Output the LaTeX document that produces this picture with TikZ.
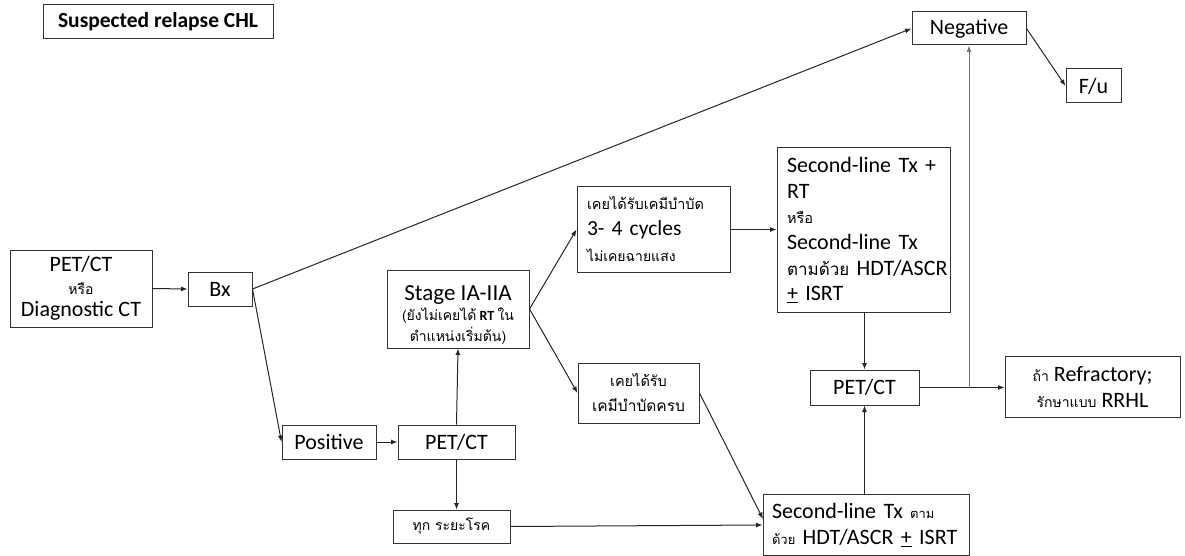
\documentclass[tikz,border=0pt]{standalone}
\usepackage{fontspec}
\setmainfont{Carlito}
\newfontfamily\thai[Script=Thai]{Loma}
\usetikzlibrary{arrows.meta}
\begin{document}
\begin{tikzpicture}[x=1pt,y=-1pt,
  box/.style={draw=black!80, line width=1pt, inner sep=0pt, align=center,
     font=\fontsize{22}{24}\selectfont},
  conn/.style={draw=black!85, line width=1pt, -{Latex[length=6.5pt,width=5pt]}},
  greyconn/.style={conn, draw=black!55}]
\useasboundingbox (0,0) rectangle (1185,556);
\newcommand{\thsz}[2]{{\thai\fontsize{#1}{20}\selectfont #2}}

\node[box, minimum width=230, minimum height=34, font=\bfseries\fontsize{21.5}{24}\selectfont] (title) at (158,22) {Suspected relapse CHL};

\node[box, minimum width=142, minimum height=77, font=\fontsize{22}{22.5}\selectfont] (diag) at (81,288.5)
  {PET/CT\\ \thsz{14}{หรือ}\\ Diagnostic CT};
\node[box, minimum width=64, minimum height=34] (bx) at (220,289) {Bx};
\node[box, minimum width=114, minimum height=33] (neg) at (969,28.5) {Negative};
\node[box, minimum width=55, minimum height=34] (fu) at (1093.5,86) {F/u};

\node[box, minimum width=142, minimum height=78, font=\fontsize{14}{20.5}\selectfont] (stage) at (458,309)
  {\rule{0pt}{26pt}{\fontsize{23}{20}\selectfont Stage IA-IIA}\\ {\thai (ยังไม่เคยได้} {\bfseries RT} {\thai ใน}\\ {\thai ตำแหน่งเริ่มต้น)}};
\node[box, minimum width=94, minimum height=34] (pos) at (329,442) {Positive};
\node[box, minimum width=117, minimum height=34] (pet1) at (456.5,442) {PET/CT};
\node[box, minimum width=117, minimum height=33] (tuk) at (451.5,526.5) {\thsz{14}{ทุก ระยะโรค}};

\node[box, minimum width=153, minimum height=85, text width=133, inner xsep=10pt, align=left, font=\fontsize{21.5}{26}\selectfont] (c34) at (653.5,229.5)
  {\mbox{\thsz{14.5}{เคยได้รับเคมีบำบัด}}\\ \mbox{3- 4 cycles}\\ \mbox{\thsz{14}{ไม่เคยฉายแสง}}};
\node[box, minimum width=121, minimum height=60, font=\fontsize{17}{25}\selectfont] (krob) at (638.5,393)
  {\thsz{14.5}{เคยได้รับ}\\ \thsz{15.5}{เคมีบำบัดครบ}};

\node[box, minimum width=173, minimum height=164, text width=153, inner xsep=10pt, align=left, font=\fontsize{22}{25.6}\selectfont] (sl) at (863.5,230)
  {\mbox{Second-line Tx +}\\ \mbox{RT}\\ \mbox{\thsz{14.5}{หรือ}}\\ \mbox{Second-line Tx}\\ \mbox{\thsz{17}{ตามด้วย} HDT/ASCR}\\ \mbox{\underline{+} ISRT}};
\node[box, minimum width=109, minimum height=35] (pet2) at (864.5,387.5) {PET/CT};
\node[box, minimum width=175, minimum height=61, font=\fontsize{22}{26}\selectfont] (ref) at (1092.5,386.5)
  {\thsz{14}{ถ้า} Refractory;\\ \thsz{14}{รักษาแบบ} RRHL};
\node[box, minimum width=206, minimum height=61, text width=188, inner xsep=9pt, align=left, font=\fontsize{22}{26}\selectfont] (slb) at (866,525)
  {\mbox{Second-line Tx \thsz{13}{ตาม}}\\ \mbox{\thsz{13}{ด้วย} HDT/ASCR \underline{+} ISRT}};

\coordinate (slbin) at (763,519);

\draw[conn] (diag.east) -- (bx.west);
\draw[conn] (bx.east) -- (neg.west);
\draw[conn] (bx.east) -- (pos.west);
\draw[conn] (pos.east) -- (pet1.west);
\draw[conn] (pet1.north) -- (stage.south);
\draw[conn] (pet1.south) -- (tuk.north -| pet1.south);
\draw[conn] (stage.east) -- (c34.west);
\draw[conn] (stage.east) -- (krob.west);
\draw[conn] (c34.east) -- (c34.east -| sl.west);
\draw[conn] (krob.east) -- (slbin);
\draw[conn] (tuk.east) -- (slb.west);
\draw[conn] (sl.south -| pet2.north) -- (pet2.north);
\draw[conn] (slb.north -| pet2.south) -- (pet2.south);
\draw[conn] (pet2.east) -- (pet2.east -| ref.west);
\draw[greyconn] (pet2.east -| neg.south) -- (neg.south);
\draw[conn] (neg.east) -- (fu.west);
\end{tikzpicture}
\end{document}
